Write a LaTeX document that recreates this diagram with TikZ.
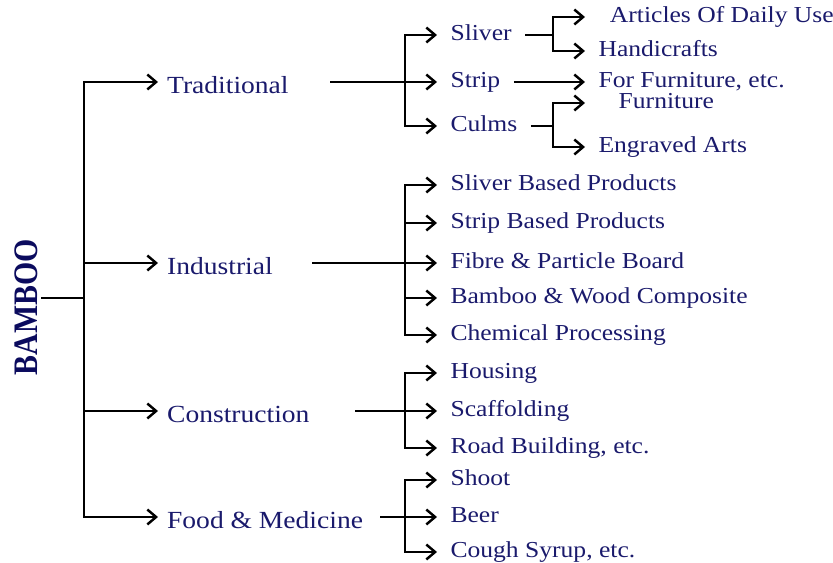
\documentclass[tikz,border=0pt]{standalone}
\usepackage{fontspec}
\setmainfont{Liberation Serif}[FakeStretch=1.12]
\newfontfamily\rootfont{Liberation Serif}
\usepackage{graphicx}
\usetikzlibrary{arrows.meta, positioning, calc}
\definecolor{rootcol}{HTML}{0B0B5E}
\definecolor{labelcol}{HTML}{1A1A6C}

\begin{document}
\begin{tikzpicture}[x=0.02cm, y=-0.02cm,
  root/.style={
    rotate=90, inner sep=1.5pt, text=rootcol,
    font=\rootfont\bfseries\fontsize{17}{19}\selectfont
  },
  cat/.style={
    anchor=west, inner xsep=5pt, inner ysep=0pt, text=labelcol,
    text height=16pt, text depth=3pt, font=\fontsize{14}{16}\selectfont
  },
  leaf/.style={
    anchor=west, inner xsep=7.5pt, inner ysep=0pt, text=labelcol,
    text height=9pt, text depth=3pt, font=\fontsize{13}{15}\selectfont
  },
  conn/.style={line width=1.4pt},
  arr/.style={conn, -{Straight Barb[length=5pt, width=8.5pt]}}
]
\useasboundingbox (0,0) rectangle (833,563);

% ============ ROOT ============
\node[root, anchor=south] (bamboo) at (41,307) {\scalebox{1}[1.15]{BAMBOO}};
\coordinate (trunk) at (84,298);
\draw[conn] (bamboo.south |- trunk) -- (trunk);

% ============ MAIN USES ============
\node[cat] (trad) at (158,82) {Traditional};
\node[cat] (ind) at (158,263) {Industrial};
\node[cat] (cons) at (158,411) {Construction};
\node[cat] (food) at (158,517) {Food \& Medicine};
\foreach \n in {trad,ind,cons,food}
  \draw[arr] (trunk) |- (\n.west);

% ============ TRADITIONAL ============
\coordinate (tradout) at (330,82);
\coordinate (tradfork) at (405,82);
\draw[conn] (tradout) -- (tradfork);

\node[leaf] (sliver) at (437,35) {Sliver};
\node[leaf] (strip) at (437,82) {Strip};
\node[leaf] (culms) at (437,126) {Culms};
\foreach \n in {sliver,strip,culms}
  \draw[arr] (tradfork) |- (\n.west);

% sliver -> daily use / handicrafts
\coordinate (sliverfork) at (553,35);
\node[leaf, inner xsep=14pt] (daily) at (585,17) {Articles Of Daily Use};
\node[leaf] (handi) at (585,51) {Handicrafts};
\draw[conn] (sliver.east) -- (sliverfork);
\foreach \n in {daily,handi}
  \draw[arr] (sliverfork) |- (\n.west);

% strip -> furniture
\node[leaf] (furnetc) at (585,82) {For Furniture, etc.};
\draw[arr] (strip.east) -- (furnetc.west);

% culms -> furniture / engraved arts
\coordinate (culmsfork) at (553,126);
\node[leaf, inner xsep=19pt] (furn) at (585,103) {Furniture};
\node[leaf] (engr) at (585,147) {Engraved Arts};
\draw[conn] (culms.east) -- (culmsfork);
\foreach \n in {furn,engr}
  \draw[arr] (culmsfork) |- (\n.west);

% ============ INDUSTRIAL ============
\coordinate (indout) at (312,263);
\coordinate (indfork) at (405,263);
\draw[conn] (indout) -- (indfork);

\node[leaf] (slvprod) at (437,185) {Sliver Based Products};
\node[leaf] (strprod) at (437,223) {Strip Based Products};
\node[leaf] (board) at (437,263) {Fibre \& Particle Board};
\node[leaf] (compos) at (437,298) {Bamboo \& Wood Composite};
\node[leaf] (chem) at (437,335) {Chemical Processing};
\foreach \n in {slvprod,strprod,board,compos,chem}
  \draw[arr] (indfork) |- (\n.west);

% ============ CONSTRUCTION ============
\coordinate (consout) at (355,411);
\coordinate (consfork) at (405,411);
\draw[conn] (consout) -- (consfork);

\node[leaf] (housing) at (437,373) {Housing};
\node[leaf] (scaff) at (437,411) {Scaffolding};
\node[leaf] (road) at (437,448) {Road Building, etc.};
\foreach \n in {housing,scaff,road}
  \draw[arr] (consfork) |- (\n.west);

% ============ FOOD & MEDICINE ============
\coordinate (foodout) at (380,517);
\coordinate (foodfork) at (405,517);
\draw[conn] (foodout) -- (foodfork);

\node[leaf] (shoot) at (437,480) {Shoot};
\node[leaf] (beer) at (437,517) {Beer};
\node[leaf] (syrup) at (437,552) {Cough Syrup, etc.};
\foreach \n in {shoot,beer,syrup}
  \draw[arr] (foodfork) |- (\n.west);

\end{tikzpicture}
\end{document}
